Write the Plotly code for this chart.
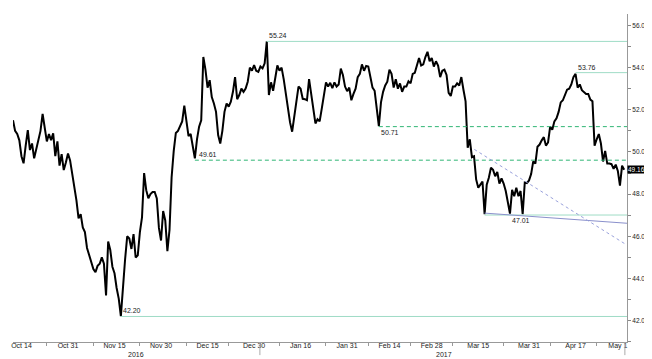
import pandas as pd
import plotly.graph_objects as go

# ---------------- data (two readings per weekday) ----------------
start_day = "2016-10-12"
prices = [
    51.50, 51.00, 50.85, 50.55, 49.80, 49.46, 50.30, 51.04, 50.09, 50.40,
    49.70, 50.10, 50.55, 51.00, 51.80, 51.10, 50.50, 50.85, 50.56, 50.88,
    49.80, 50.50, 49.35, 49.90, 49.14, 49.50, 49.93, 49.60, 49.00, 48.30,
    47.70, 46.85, 47.05, 46.42, 46.20, 45.45, 45.10, 44.72, 44.45, 44.30,
    44.60, 44.70, 45.00, 44.70, 43.20, 45.75, 45.35, 44.56, 44.25, 43.55,
    43.05, 42.22, 43.70, 44.90, 46.00, 45.90, 45.40, 46.10, 45.00, 45.10,
    46.20, 46.90, 49.00, 48.19, 47.80, 48.00, 48.10, 48.10, 47.80, 46.40,
    45.80, 47.20, 46.75, 45.30, 46.30, 48.80, 50.05, 50.90, 51.00, 51.20,
    51.45, 52.20, 51.40, 50.75, 50.85, 50.30, 49.70, 50.60, 51.20, 51.50,
    54.50, 53.90, 53.05, 53.40, 52.60, 52.30, 51.90, 50.80, 50.40, 51.00,
    51.90, 52.30, 52.15, 52.38, 52.85, 53.55, 52.50, 52.70, 53.00, 52.85,
    53.01, 53.33, 54.00, 53.85, 54.12, 53.85, 53.80, 54.05, 53.96, 54.20,
    55.24, 52.70, 53.30, 52.90, 53.60, 54.10, 53.85, 54.00, 53.45, 52.70,
    51.95, 51.40, 50.96, 51.60, 52.40, 53.10, 53.00, 52.52, 52.50, 52.45,
    53.45, 52.70, 52.00, 51.35, 51.55, 51.45, 52.05, 52.65, 53.30, 53.10,
    53.28, 53.02, 53.30, 53.10, 53.20, 53.95, 53.65, 53.10, 52.88, 53.05,
    52.45, 52.75, 53.00, 53.55, 53.70, 54.15, 53.85, 54.08, 54.05, 53.55,
    53.05, 52.90, 51.95, 51.22, 52.35, 52.85, 53.15, 53.33, 53.90, 53.70,
    53.05, 53.45, 53.00, 53.25, 52.85, 53.10, 53.10, 53.35, 53.25, 53.70,
    53.75, 54.15, 54.45, 54.10, 54.15, 54.50, 54.75, 54.30, 54.45, 54.05,
    54.30, 54.10, 53.55, 53.85, 53.90, 53.65, 52.80, 52.65, 53.10, 53.10,
    53.25, 53.15, 53.55, 52.95, 52.40, 50.20, 50.60, 49.75, 49.80, 48.70,
    48.30, 48.45, 48.60, 47.05, 48.45, 48.78, 49.25, 49.15, 48.85, 49.05,
    48.50, 48.75, 48.50, 48.15, 47.55, 47.08, 48.20, 47.90, 48.30, 47.90,
    48.15, 47.05, 48.55, 48.52, 48.65, 48.95, 49.55, 49.45, 50.25, 50.35,
    50.55, 50.70, 50.30, 50.45, 51.20, 51.05, 51.45, 51.60, 51.90, 52.35,
    52.45, 52.75, 52.95, 53.00, 53.20, 53.55, 53.70, 53.05, 53.20, 52.93,
    52.85, 52.75, 52.75, 52.48, 52.40, 50.30, 50.60, 50.85, 50.40, 49.55,
    50.05, 49.45, 49.45, 49.42, 49.20, 49.40, 49.10, 48.40, 49.35, 49.16,
]

tick_dates = ["2016-10-14", "2016-10-31", "2016-11-15", "2016-11-30", "2016-12-15",
              "2016-12-30", "2017-01-16", "2017-01-31", "2017-02-14", "2017-02-28",
              "2017-03-15", "2017-03-31", "2017-04-17", "2017-05-01"]
tick_labels = ["Oct 14", "Oct 31", "Nov 15", "Nov 30", "Dec 15", "Dec 30", "Jan 16",
               "Jan 31", "Feb 14", "Feb 28", "Mar 15", "Mar 31", "Apr 17", "May 1"]
minor_dates = ["2016-10-24", "2016-11-08", "2016-11-23", "2016-12-08", "2016-12-22",
               "2017-01-09", "2017-01-24", "2017-02-07", "2017-02-21", "2017-03-07",
               "2017-03-23", "2017-04-07", "2017-04-24"]
y_ticks = [42, 44, 46, 48, 50, 52, 54, 56]

# horizontal levels: (start, level, label, label x, label anchor, dashed)
levels = [
    ("2017-01-04 00:00", 55.24, "55.24", "2017-01-04 00:00", "bottom", False),
    ("2017-04-17 00:00", 53.76, "53.76", "2017-04-17 00:00", "bottom", False),
    ("2017-02-09 12:00", 51.20, "50.71", "2017-02-09 12:00", "top", True),
    ("2016-12-12 00:00", 49.61, "49.61", "2016-12-12 12:00", "bottom", True),
    ("2017-03-16 12:00", 47.01, "47.01", "2017-03-24 12:00", "top", False),
    ("2016-11-16 12:00", 42.20, "42.20", "2016-11-16 12:00", "bottom", False),
]
last_value = 49.16
x_start, x_end = "2016-10-12 00:00", "2017-05-03 04:00"

# --------------------------------------------------------------------------------------
days = pd.bdate_range(start_day, periods=len(prices) // 2)
times = []
for d in days:
    times.append(d)
    times.append(d + pd.Timedelta(hours=12))

FONT = "Liberation Sans"
fig = go.Figure()
fig.add_trace(go.Scatter(x=times, y=prices, mode="lines",
                         line=dict(color="#000000", width=2.0), hoverinfo="skip",
                         showlegend=False))

shapes = []
annotations = []
for x0, lvl, txt, xl, pos, dashed in levels:
    shapes.append(dict(type="line", xref="x", yref="y", x0=x0, x1=x_end, y0=lvl, y1=lvl,
                       line=dict(color="#2fb574" if dashed else "#9fdcc6", width=1,
                                 dash="4px,3px" if dashed else "solid")))
    annotations.append(dict(x=xl, y=lvl, xref="x", yref="y", text=txt, showarrow=False,
                            xanchor="left", yanchor=pos, xshift=0,
                            font=dict(family=FONT, size=7, color="#222")))

# trend lines
shapes.append(dict(type="line", xref="x", yref="y", x0="2017-03-16 12:00", y0=47.10,
                   x1=x_end, y1=46.62, line=dict(color="#8a90cc", width=1)))
shapes.append(dict(type="line", xref="x", yref="y", x0="2017-03-14 02:00", y0=50.12,
                   x1="2017-05-02 17:00", y1=45.64,
                   line=dict(color="#9aa2dc", width=1, dash="3px,3px")))
# separators below the axis
for xs in ["2017-01-02 09:00", "2017-05-02 16:00"]:
    shapes.append(dict(type="line", xref="x", yref="paper", x0=xs, x1=xs, y0=0, y1=-0.04,
                       line=dict(color="#aaaaaa", width=1)))

annotations.append(dict(x="2016-11-22 02:00", y=-0.038, xref="x", yref="paper", text="2016",
                        showarrow=False, yanchor="middle",
                        font=dict(family=FONT, size=7, color="#222")))
annotations.append(dict(x="2017-03-03 00:00", y=-0.038, xref="x", yref="paper", text="2017",
                        showarrow=False, yanchor="middle",
                        font=dict(family=FONT, size=7, color="#222")))
annotations.append(dict(x=1.0, y=last_value, xref="paper", yref="y", text=f"{last_value:.2f}",
                        showarrow=False, xanchor="left", xshift=0, bgcolor="#000000",
                        borderpad=0, font=dict(family=FONT, size=6.5, color="#ffffff")))

# the page places the figure 8 px in from the top-left corner
fig.update_layout(
    width=644, height=351,
    margin=dict(l=3, r=25, t=6, b=17),
    paper_bgcolor="white", plot_bgcolor="white",
    shapes=shapes, annotations=annotations,
    font=dict(family=FONT, size=7, color="#222"),
    xaxis=dict(
        type="date", range=[x_start, x_end],
        rangebreaks=[dict(bounds=["sat", "mon"])],
        tickmode="array", tickvals=tick_dates, ticktext=tick_labels,
        ticks="", ticklen=0, ticklabelstandoff=-3, showgrid=False, zeroline=False,
        showline=True, linecolor="#999999", linewidth=1,
        tickfont=dict(family=FONT, size=7, color="#222"),
        minor=dict(tickmode="array", tickvals=minor_dates, ticks="outside",
                   ticklen=3, tickcolor="#999999", showgrid=False),
    ),
    yaxis=dict(
        side="right", range=[40.99, 56.54],
        tickmode="array", tickvals=y_ticks, tickformat=".2f",
        ticks="outside", ticklen=3, tickcolor="#888888",
        showgrid=False, zeroline=False,
        showline=True, linecolor="#999999", linewidth=1,
        tickfont=dict(family=FONT, size=6.5, color="#222"),
        minor=dict(dtick=1, ticks="outside", ticklen=3, tickcolor="#888888", showgrid=False),
    ),
)

fig.write_html("out.html")
